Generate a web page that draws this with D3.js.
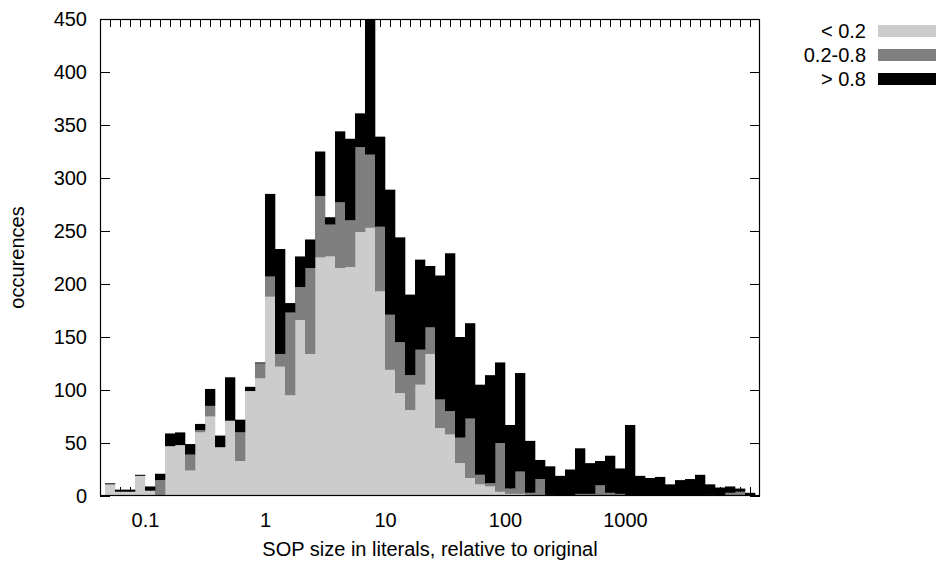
<!DOCTYPE html>
<html>
<head>
<meta charset="utf-8">
<script src="https://cdn.jsdelivr.net/npm/d3@7/dist/d3.min.js"></script>
<style>
  body { margin: 0; background: #fff; }
  text { font-family: "Liberation Sans", Arial, sans-serif; fill: #000; }
</style>
</head>
<body>
<svg id="chart" width="936" height="568"></svg>
<script>
// --- data: log-binned histogram, 12 bins per decade, first bin starts at 10^(-16/12)
const firstBin = -16;
const binsPerDecade = 12;
const low  = [11, 4, 4, 19, 5, 0, 47, 48, 24, 60, 75, 46, 71, 33, 99, 111,
              188, 122, 95, 166, 134, 225, 226, 215, 216, 249, 253, 193, 119, 97, 81, 105,
              134, 64, 58, 31, 17, 11, 9, 4, 2, 2, 1, 1, 0, 0, 0, 0,
              0, 0, 0, 0, 0, 0, 0, 0, 0, 0, 0, 0, 0, 0, 0, 0, 0];
const mid  = [0, 0, 0, 0, 0, 15, 0, 0, 15, 2, 10, 0, 0, 27, 0, 14,
              19, 12, 78, 31, 81, 58, 30, 62, 44, 80, 69, 61, 52, 48, 33, 33,
              25, 27, 22, 24, 56, 9, 3, 46, 5, 21, 2, 15, 1, 0, 0, 2,
              2, 10, 3, 2, 0, 0, 0, 0, 0, 0, 0, 0, 1, 0, 3, 4, 0];
const high = [1, 2, 2, 1, 4, 6, 12, 12, 10, 6, 16, 11, 41, 12, 4, 1,
              78, 99, 9, 29, 27, 42, 7, 67, 77, 32, 128, 85, 118, 99, 76, 85,
              58, 117, 149, 95, 90, 85, 102, 76, 60, 93, 49, 18, 27, 19, 25, 43,
              29, 23, 35, 24, 67, 19, 17, 18, 11, 15, 16, 20, 10, 8, 6, 3, 3];
const seriesNames = ["< 0.2", "0.2-0.8", "> 0.8"];
const seriesColors = ["#cccccc", "#7f7f7f", "#000000"];
const yTickValues = [0, 50, 100, 150, 200, 250, 300, 350, 400, 450];
const xTickValues = [0.1, 1, 10, 100, 1000];
const xTickLabels = ["0.1", "1", "10", "100", "1000"];

// --- layout
const margin = { top: 19, right: 176, bottom: 72, left: 100 };
const W = 936, H = 568;
const fontSize = 20;

const svg = d3.select("#chart");

const bins = low.map((v, i) => {
  const k = firstBin + i;
  return {
    x0: Math.pow(10, k / binsPerDecade),
    x1: Math.pow(10, (k + 1) / binsPerDecade),
    xc: Math.pow(10, (k + 0.5) / binsPerDecade),
    a: low[i], b: mid[i], c: high[i]
  };
});

const x = d3.scaleLog()
  .domain([Math.pow(10, -1.375), Math.pow(10, 4.125)])
  .range([margin.left, W - margin.right]);
const y = d3.scaleLinear()
  .domain([0, 450])
  .range([H - margin.bottom, margin.top]);

const stacked = d3.stack().keys(["a", "b", "c"])(bins);

svg.append("defs").append("clipPath").attr("id", "plotclip")
  .append("rect")
  .attr("x", margin.left).attr("y", margin.top)
  .attr("width", W - margin.right - margin.left)
  .attr("height", H - margin.bottom - margin.top);

// bottom bin ticks (under the bars)
svg.append("g")
  .attr("transform", `translate(0,${H - margin.bottom})`)
  .call(d3.axisBottom(x).tickValues(bins.map(d => d.xc)).tickSize(-9).tickFormat(""))
  .call(g => g.select(".domain").remove())
  .selectAll("line").attr("stroke", "#000");

// bars
svg.append("g").attr("clip-path", "url(#plotclip)")
  .selectAll("g")
  .data(stacked)
  .join("g")
  .attr("fill", (d, i) => seriesColors[i])
  .selectAll("rect")
  .data(d => d.map(p => ({ p, bin: p.data })))
  .join("rect")
  .attr("x", d => x(d.bin.x0))
  .attr("width", d => x(d.bin.x1) - x(d.bin.x0) + 0.3)
  .attr("y", d => y(d.p[1]))
  .attr("height", d => Math.max(0, y(d.p[0]) - y(d.p[1])));

// top bin ticks
svg.append("g")
  .attr("transform", `translate(0,${margin.top})`)
  .call(d3.axisTop(x).tickValues(bins.map(d => d.xc)).tickSize(-8).tickFormat(""))
  .call(g => g.select(".domain").remove())
  .selectAll("line").attr("stroke", "#000");

// y axis left
svg.append("g")
  .attr("transform", `translate(${margin.left},0)`)
  .call(d3.axisLeft(y).tickValues(yTickValues).tickSize(-10).tickPadding(13))
  .call(g => g.select(".domain").remove())
  .call(g => g.selectAll("line").attr("stroke", "#000"))
  .call(g => g.selectAll("text").attr("font-size", fontSize).attr("font-family", null));

// y axis right (mirror)
svg.append("g")
  .attr("transform", `translate(${W - margin.right},0)`)
  .call(d3.axisRight(y).tickValues(yTickValues).tickSize(-10).tickFormat(""))
  .call(g => g.select(".domain").remove())
  .selectAll("line").attr("stroke", "#000");

// x labels
svg.append("g")
  .attr("transform", `translate(0,${H - margin.bottom})`)
  .call(d3.axisBottom(x).tickValues(xTickValues).tickSize(0).tickPadding(17)
    .tickFormat((d, i) => xTickLabels[i]))
  .call(g => g.select(".domain").remove())
  .call(g => g.selectAll("text").attr("font-size", fontSize).attr("font-family", null));

// frame
svg.append("rect")
  .attr("x", margin.left + 0.5).attr("y", margin.top + 0.5)
  .attr("width", W - margin.right - margin.left - 1)
  .attr("height", H - margin.bottom - margin.top - 1)
  .attr("fill", "none").attr("stroke", "#000").attr("stroke-width", 1.2);

// axis titles
svg.append("text")
  .attr("transform", `translate(24,${(margin.top + H - margin.bottom) / 2}) rotate(-90)`)
  .attr("text-anchor", "middle")
  .attr("font-size", fontSize)
  .text("occurences");
svg.append("text")
  .attr("x", (margin.left + W - margin.right) / 2).attr("y", 556)
  .attr("text-anchor", "middle")
  .attr("font-size", fontSize)
  .text("SOP size in literals, relative to original");

// legend
const legend = svg.append("g").selectAll("g")
  .data(seriesNames)
  .join("g")
  .attr("transform", (d, i) => `translate(0,${31 + i * 24})`);
legend.append("text")
  .attr("x", 866).attr("text-anchor", "end").attr("dominant-baseline", "central")
  .attr("font-size", fontSize)
  .text(d => d);
legend.append("rect")
  .attr("x", 878).attr("y", -6).attr("width", 60).attr("height", 12)
  .attr("fill", (d, i) => seriesColors[i]);
</script>
</body>
</html>
